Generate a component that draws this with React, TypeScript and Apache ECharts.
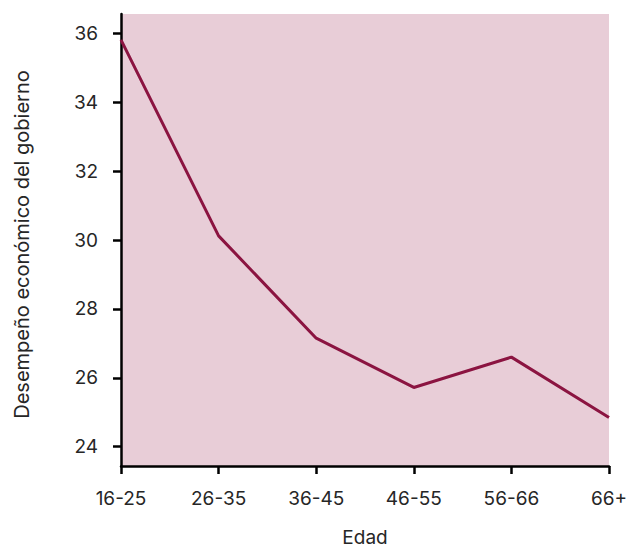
import React, { useEffect, useRef } from "react";
import * as echarts from "echarts";

const categories = ["16-25", "26-35", "36-45", "46-55", "56-66", "66+"];
const values = [35.81, 30.12, 27.15, 25.72, 26.6, 24.85];
const yTicks = [24, 26, 28, 30, 32, 34, 36];

const FONT = "Inter";
const TEXT = "#262626";

export default function App() {
  const ref = useRef<HTMLDivElement>(null);
  useEffect(() => {
    if (!ref.current) return;
    document.body.style.margin = "0";
    document.body.style.overflow = "hidden";
    const chart = echarts.init(ref.current, undefined, { renderer: "svg" });
    chart.setOption({
      animation: false,
      grid: {
        left: 121,
        right: 18,
        top: 14,
        bottom: 82,
        show: true,
        backgroundColor: "#E8CDD7",
        borderWidth: 0,
        containLabel: false,
        outerBoundsMode: "none",
      },
      xAxis: {
        type: "category",
        data: categories,
        boundaryGap: false,
        name: "Edad",
        nameLocation: "middle",
        nameGap: 62,
        nameTextStyle: { fontFamily: FONT, fontSize: 19, color: TEXT },
        axisLine: { show: true, lineStyle: { color: "#000", width: 2.5 } },
        axisTick: { show: true, length: 8, lineStyle: { color: "#000", width: 2.5 } },
        axisLabel: { fontFamily: FONT, fontSize: 19, color: TEXT, margin: 23 },
        splitLine: { show: false },
      },
      yAxis: {
        type: "value",
        min: 23.44,
        max: 36.56,
        name: "Desempeño económico del gobierno",
        nameLocation: "middle",
        nameGap: 89,
        nameTextStyle: { fontFamily: FONT, fontSize: 20, color: TEXT, padding: [0, 9, 0, 0] },
        axisLine: { show: true, lineStyle: { color: "#000", width: 2.5 } },
        axisTick: { show: true, length: 8, lineStyle: { color: "#000", width: 2.5 }, customValues: yTicks },
        axisLabel: { fontFamily: FONT, fontSize: 19, color: TEXT, margin: 23, customValues: yTicks },
        splitLine: { show: false },
      },
      series: [
        {
          type: "line",
          data: values,
          symbol: "none",
          lineStyle: { color: "#8B1441", width: 3 },
        },
      ],
    });
    return () => chart.dispose();
  }, []);
  return <div ref={ref} style={{ position: "absolute", left: 0, top: 0, width: 627, height: 548 }} />;
}
